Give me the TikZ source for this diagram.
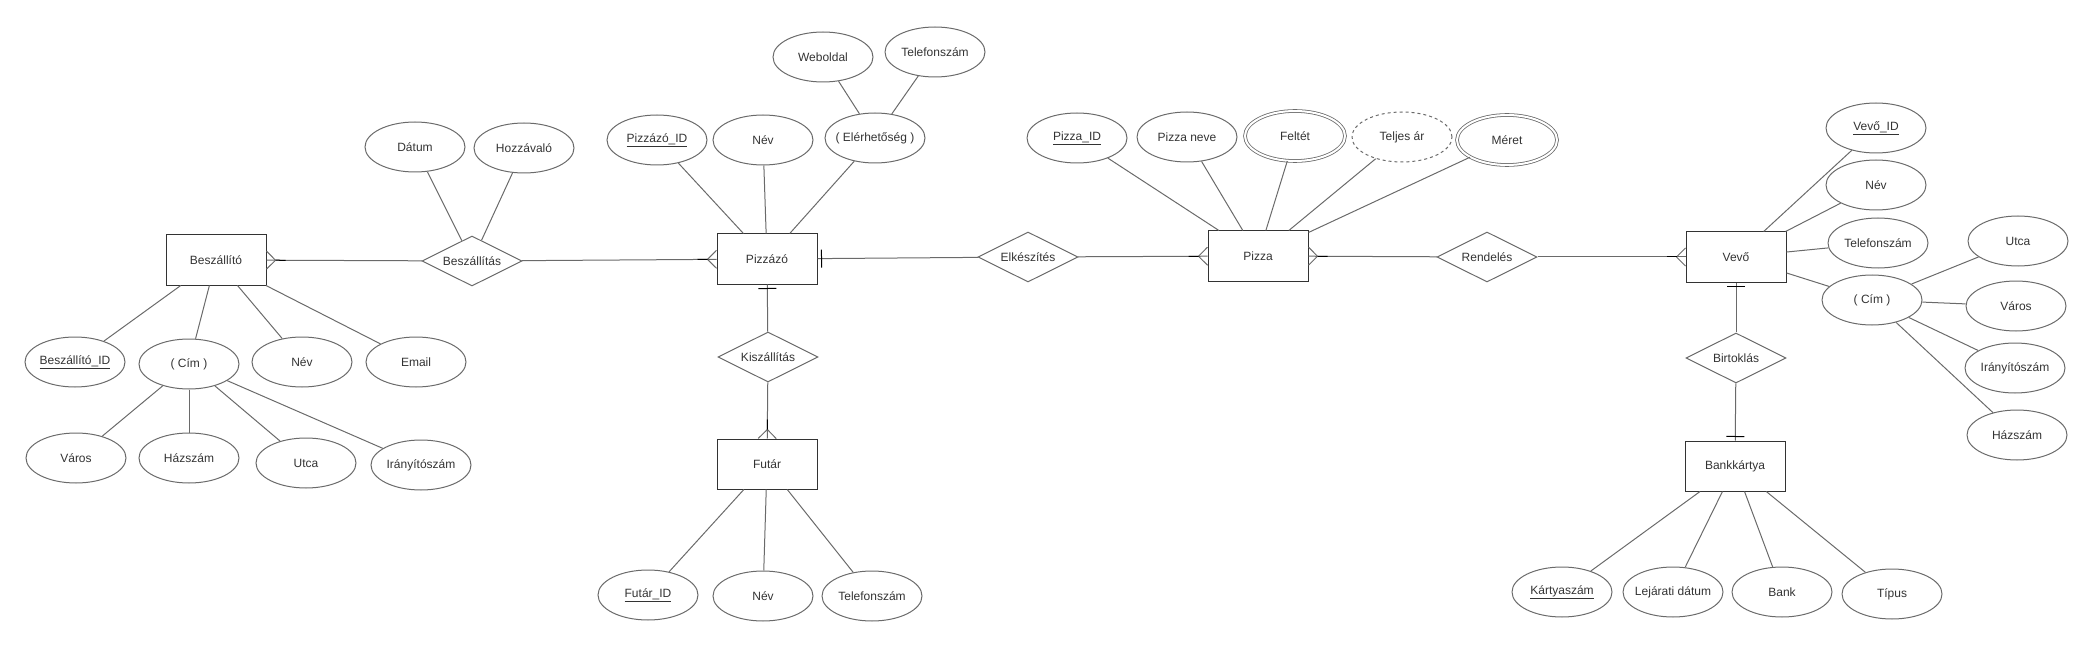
\documentclass[tikz,border=0pt]{standalone}
\usepackage{fontspec}
\setmainfont{Liberation Sans}
\usepackage{tikz}
\usetikzlibrary{shapes.geometric,decorations.markings}
\definecolor{linegray}{HTML}{6A6A6A}
\definecolor{textgray}{HTML}{333333}
\tikzset{
    every node/.style={font=\fontsize{12}{14}\selectfont, text=textgray}
}
\tikzset{
    entity/.style={rectangle, draw=black!80, line width=1pt, minimum width=100pt,
    	minimum height=50pt, inner sep=0pt},
    attr/.style={ellipse, draw=linegray, line width=1pt, minimum width=100pt,
    	minimum height=50pt, inner xsep=-12pt, inner ysep=0pt},
    multi/.style={attr, double, double distance=2pt, line width=0.8pt},
    derived/.style={attr, dashed},
    rel/.style={diamond, draw=linegray, line width=1pt, aspect=2,
    	minimum width=100pt, minimum height=50pt, inner sep=0pt}
}
\tikzset{
    every edge/.append style={draw=linegray, line width=1pt}
}
% crow's foot and single bar at the target end
\tikzset{
    many/.style={postaction={decorate}, decoration={markings,
    	mark=at position 1 with {\draw[linegray, line width=1pt]
    	(-9pt,0) -- (0,9pt) (-9pt,0) -- (0,-9pt);
    	\draw[black, line width=1pt] (-19pt,0) -- (-9pt,0);}}},
    one/.style={postaction={decorate}, decoration={markings,
    	mark=at position -4pt with {\draw[black, line width=1pt]
    	(0,-9pt) -- (0,9pt);}}}
}

\begin{document}
\begin{tikzpicture}[x=1pt, y=-1pt]
  \useasboundingbox (0,0) rectangle (2094,647);

  % Beszallito
  \node (bsz) [entity] at (216,260) {Beszállító};
  \node (bszid) [attr] at (75,362) {\underline{Beszállító\_ID}};
  \node (bszcim) [attr] at (189,364) {( Cím )};
  \node (bsznev) [attr] at (302,362) {Név};
  \node (bszmail) [attr] at (416,362) {Email};
  \node (bszvaros) [attr] at (76,458) {Város};
  \node (bszhaz) [attr] at (189,458) {Házszám};
  \node (bszutca) [attr] at (306,463) {Utca};
  \node (bszirsz) [attr] at (421,465) {Irányítószám};

  \node (bszas) [rel] at (472,261) {Beszállítás};
  \node (datum) [attr] at (415,147) {Dátum};
  \node (hozz) [attr] at (524,148) {Hozzávaló};

  % Pizzazo
  \node (pzo) [entity] at (767,259) {Pizzázó};
  \node (pzoid) [attr] at (657,140) {\underline{Pizzázó\_ID}};
  \node (pzonev) [attr] at (763,140) {Név};
  \node (elerh) [attr] at (875,138) {( Elérhetőség )};
  \node (web) [attr] at (823,57) {Weboldal};
  \node (pzotel) [attr] at (935,52) {Telefonszám};

  \node (kisz) [rel] at (768,357) {Kiszállítás};
  \node (fut) [entity] at (767,464) {Futár};
  \node (futid) [attr] at (648,595) {\underline{Futár\_ID}};
  \node (futnev) [attr] at (763,596) {Név};
  \node (futtel) [attr] at (872,596) {Telefonszám};

  % Pizza
  \node (elk) [rel] at (1028,257) {Elkészítés};
  \node (pza) [entity] at (1258,256) {Pizza};
  \node (pzaid) [attr] at (1077,138) {\underline{Pizza\_ID}};
  \node (pzanev) [attr] at (1187,137) {Pizza neve};
  \node (feltet) [multi] at (1295,136) {Feltét};
  \node (ar) [derived] at (1402,137) {Teljes ár};
  \node (meret) [multi] at (1507,140) {Méret};

  % Vevo
  \node (rend) [rel] at (1487,257) {Rendelés};
  \node (vevo) [entity] at (1736,257) {Vevő};
  \node (vevoid) [attr] at (1876,128) {\underline{Vevő\_ID}};
  \node (vevonev) [attr] at (1876,185) {Név};
  \node (vevotel) [attr] at (1878,243) {Telefonszám};
  \node (vevocim) [attr] at (1872,300) {( Cím )};
  \node (vevoutca) [attr] at (2018,241) {Utca};
  \node (vevovaros) [attr] at (2016,306) {Város};
  \node (vevoirsz) [attr] at (2015,368) {Irányítószám};
  \node (vevohaz) [attr] at (2017,435) {Házszám};

  \node (birt) [rel] at (1736,358) {Birtoklás};
  \node (bank) [entity] at (1735,466) {Bankkártya};
  \node (kszam) [attr] at (1562,592) {\underline{Kártyaszám}};
  \node (lejar) [attr] at (1673,592) {Lejárati dátum};
  \node (bnev) [attr] at (1782,592) {Bank};
  \node (tipus) [attr] at (1892,594) {Típus};

  % attributes
  \draw (bsz) edge (bszid);
  \draw (bsz) edge (bszcim);
  \draw (bsz) edge (bsznev);
  \draw (bsz) edge (bszmail);
  \draw (bszcim) edge (bszvaros);
  \draw (bszcim) edge (bszhaz);
  \draw (bszcim) edge (bszutca);
  \draw (bszcim) edge (bszirsz);
  \draw (bszas) edge (datum);
  \draw (bszas) edge (hozz);
  \draw (pzo) edge (pzoid);
  \draw (pzo) edge (pzonev);
  \draw (pzo) edge (elerh);
  \draw (elerh) edge (web);
  \draw (elerh) edge (pzotel);
  \draw (fut) edge (futid);
  \draw (fut) edge (futnev);
  \draw (fut) edge (futtel);
  \draw (pza) edge (pzaid);
  \draw (pza) edge (pzanev);
  \draw (pza) edge (feltet);
  \draw (pza) edge (ar);
  \draw (pza) edge (meret);
  \draw (vevo) edge (vevoid);
  \draw (vevo) edge (vevonev);
  \draw (vevo) edge (vevotel);
  \draw (vevo) edge (vevocim);
  \draw (vevocim) edge (vevoutca);
  \draw (vevocim) edge (vevovaros);
  \draw (vevocim) edge (vevoirsz);
  \draw (vevocim) edge (vevohaz);
  \draw (bank) edge (kszam);
  \draw (bank) edge (lejar);
  \draw (bank) edge (bnev);
  \draw (bank) edge (tipus);

  % relationships
  \draw (bszas) edge [many] (bsz);
  \draw (bszas) edge [many] (pzo);
  \draw (elk) edge [one] (pzo);
  \draw (elk) edge [many] (pza);
  \draw (kisz) edge [one] (pzo);
  \draw (kisz) edge [many] (fut);
  \draw (rend) edge [many] (pza);
  \draw (rend) edge [many] (vevo);
  \draw (birt) edge [one] (vevo);
  \draw (birt) edge [one] (bank);
\end{tikzpicture}
\end{document}
